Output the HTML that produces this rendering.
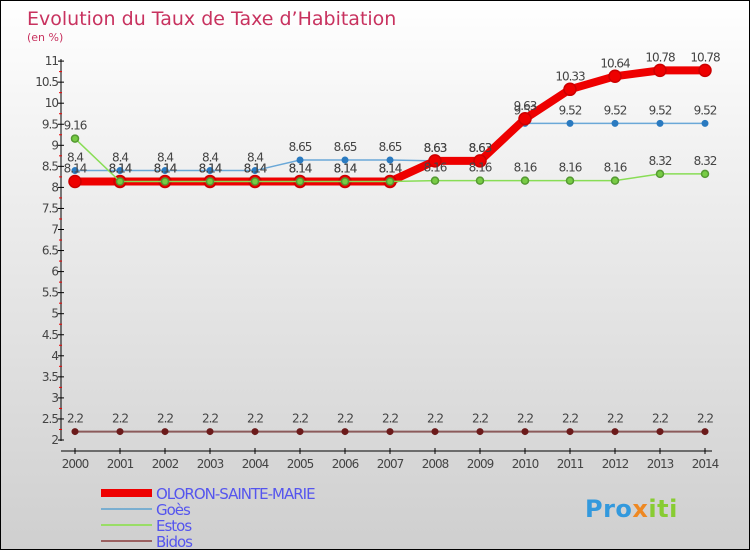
<!DOCTYPE html>
<html><head><meta charset="utf-8"><style>
body{margin:0}
#c{width:748px;height:548px;border:1px solid #000;background:linear-gradient(#fff,#f0f0f0 30%,#cfcfcf);position:relative;font-family:"DejaVu Sans","Liberation Sans",sans-serif;overflow:hidden}
svg text{font-family:"DejaVu Sans","Liberation Sans",sans-serif}
</style></head><body>
<div id="c">
<svg id="s" width="748" height="548"></svg>
</div>
<script>
const years=[2000,2001,2002,2003,2004,2005,2006,2007,2008,2009,2010,2011,2012,2013,2014];
const oloron=[8.14,8.14,8.14,8.14,8.14,8.14,8.14,8.14,8.63,8.63,9.63,10.33,10.64,10.78,10.78];
const goes=[8.4,8.4,8.4,8.4,8.4,8.65,8.65,8.65,8.63,8.63,9.52,9.52,9.52,9.52,9.52];
const estos=[9.16,8.14,8.14,8.14,8.14,8.14,8.14,8.14,8.16,8.16,8.16,8.16,8.16,8.32,8.32];
const bidos=[2.2,2.2,2.2,2.2,2.2,2.2,2.2,2.2,2.2,2.2,2.2,2.2,2.2,2.2,2.2];
const yTicks=[2,2.5,3,3.5,4,4.5,5,5.5,6,6.5,7,7.5,8,8.5,9,9.5,10,10.5,11];
const s=document.getElementById('s');const NS='http://www.w3.org/2000/svg';
function X(i){return 74+i*45;}
function Y(v){return 439-(v-2)*42.1;}
function el(t,a,txt){const e=document.createElementNS(NS,t);for(const k in a)e.setAttribute(k,a[k]);if(txt!==undefined)e.textContent=txt;s.appendChild(e);return e;}
let e=el('text',{x:26,y:24,fill:'#c8325f','font-size':19},'Evolution du Taux de Taxe d\u2019Habitation');

e=el('text',{x:26,y:40,fill:'#c8325f','font-size':11},'(en %)');

e=el('line',{x1:60,y1:58,x2:60,y2:440,stroke:'#000'});

e=el('line',{x1:60,y1:450,x2:711,y2:450,stroke:'#000'});

yTicks.forEach((v,i)=>{const y=Y(v);
 e=el('line',{x1:57,x2:63,y1:y,y2:y,stroke:'#000'});
 
 e=el('text',{x:57,y:y+4,'text-anchor':'end','font-size':12,fill:'#444','letter-spacing':-1},String(v));
 
 if(i<yTicks.length-1){const ym=Y(v+0.25);e=el('line',{x1:58,x2:61,y1:ym,y2:ym,stroke:'#e00'});
 }
});
years.forEach((yr,i)=>{e=el('line',{x1:X(i),x2:X(i),y1:447,y2:453,stroke:'#000'});
 
 e=el('text',{x:X(i),y:467,'text-anchor':'middle','font-size':12,fill:'#444','letter-spacing':-1},String(yr));
 });
function series(d,name,col,w,r,fill,stroke){
 e=el('polyline',{points:d.map((v,i)=>X(i)+','+Y(v)).join(' '),fill:'none',stroke:col,'stroke-width':w});
 
 d.forEach((v,i)=>{e=el('circle',{cx:X(i),cy:Y(v),r:r,fill:fill,stroke:stroke||'none','stroke-width':stroke?1.5:0});
 
 e=el('text',{x:X(i),y:Y(v)-9,'text-anchor':'middle','font-size':12,fill:'#444','letter-spacing':-1},String(v));
 });
}
series(bidos,'bidos','#8b5a5a',2,3.5,'#6b1a1a');
series(goes,'goes','#6aa8d8',1.5,3.5,'#2a7ac0');
series(oloron,'oloron','#e00',8,6,'#e00','#c00');
series(estos,'estos','#88dd55',1.5,3.5,'#77cc44','#559933');
const leg=[['OLORON-SAINTE-MARIE','#e00',8],['Goès','#7aaed0',2],['Estos','#99dd66',2],['Bidos','#9a6060',2]];
leg.forEach((l,i)=>{const y=492+i*16;
 e=el('line',{x1:100,x2:151,y1:y,y2:y,stroke:l[1],'stroke-width':l[2]});
 
 e=el('text',{x:155,y:y+6,'font-size':15,fill:'#5555ee','letter-spacing':-1},l[0]);
 });
e=el('text',{x:584,y:516,'font-size':24,'font-weight':'bold','letter-spacing':0.5});

e.innerHTML='<tspan fill="#3399dd">Pro</tspan><tspan fill="#ee8822">x</tspan><tspan fill="#88cc33">iti</tspan>';
</script>
</body></html>
